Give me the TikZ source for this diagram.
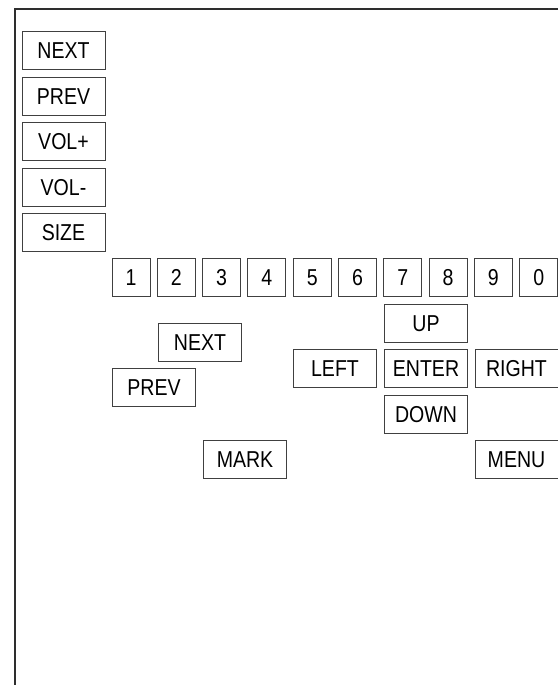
\documentclass[tikz,border=0pt]{standalone}
\usepackage{fontspec}
\setmainfont{Liberation Sans}[FakeStretch=0.85]
\begin{document}
\begin{tikzpicture}[x=1pt,y=-1pt,
  btn/.style={draw=black!75, line width=1pt, inner sep=0pt, minimum height=38pt,
    text height=16.6pt, text depth=0pt, font=\fontsize{23}{26}\selectfont},
  wide/.style={btn, minimum width=83pt},
  num/.style={btn, minimum width=38pt}]
\useasboundingbox (0,0) rectangle (557,685);
\draw[line width=2pt, black!82] (15,686) -- (15,9) -- (558,9);
% left column
\node[wide] (lnext) at (63.5,50.5) {NEXT};
\node[wide] (lprev) at (63.5,96) {PREV};
\node[wide] (lvolp) at (63.5,141.5) {VOL+};
\node[wide] (lvolm) at (63.5,187) {VOL-};
\node[wide] (lsize) at (63.5,232) {SIZE};
% digits
\foreach \d [count=\i from 0] in {1,2,3,4,5,6,7,8,9,0} {
  \node[num] (k\d) at (131+45.3*\i,277.5) {\d};
}
% second group
\node[wide] (next) at (200,342) {NEXT};
\node[wide] (prev) at (154,387) {PREV};
\node[wide] (left) at (335,368) {LEFT};
\node[wide] (mark) at (245,459) {MARK};
\node[wide] (up) at (426,323) {UP};
\node[wide] (enter) at (426,368.5) {ENTER};
\node[wide] (down) at (426,414) {DOWN};
\node[wide] (right) at (516.5,368.5) {RIGHT};
\node[wide] (menu) at (516.5,459) {MENU};
\end{tikzpicture}
\end{document}
